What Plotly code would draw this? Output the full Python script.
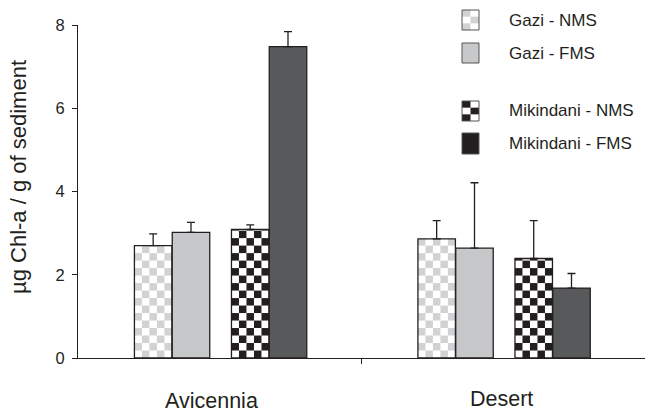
import math
import plotly.graph_objects as go

# ---------------- data ----------------
categories = ["Avicennia", "Desert"]
series_names = ["Gazi - NMS", "Gazi - FMS", "Mikindani - NMS", "Mikindani - FMS"]
gazi_nms = [2.70, 2.86]
gazi_nms_err = [0.28, 0.44]
gazi_fms = [3.02, 2.64]
gazi_fms_err = [0.24, 1.57]
mik_nms = [3.09, 2.39]
mik_nms_err = [0.11, 0.91]
mik_fms = [7.48, 1.68]
mik_fms_err = [0.36, 0.35]
y_ticks = [0, 2, 4, 6, 8]
y_title = "µg Chl-a / g of sediment"

# ---------------- layout constants ----------------
W, H = 645, 414
ML, MR, MT, MB = 78, 0, 25, 56
PW, PH = W - ML - MR, H - MT - MB
INK = "#231f20"
FONT = "Liberation Sans, Arial, sans-serif"

x_pos = list(range(len(categories)))
BAR_W = 0.1323
offsets = [-0.301, -0.1676, 0.0413, 0.1746]
CELL_H = 0.18   # checker cell height in data units
NCOLS = 5
label_shift = [(-8, 401), (-2, 399)]   # (x shift px, y centre px) of category labels


def px2paper(px, py):
    return (px - ML) / PW, (MT + PH - py) / PH


series = [
    dict(name=series_names[0], y=gazi_nms, err=gazi_nms_err, fill="rgba(0,0,0,0)", checker="#d1d2d4"),
    dict(name=series_names[1], y=gazi_fms, err=gazi_fms_err, fill="#c7c8ca", checker=None),
    dict(name=series_names[2], y=mik_nms, err=mik_nms_err, fill="rgba(0,0,0,0)", checker="#231f20"),
    dict(name=series_names[3], y=mik_fms, err=mik_fms_err, fill="#58595b", checker=None),
]

fig = go.Figure()
shapes = []
for s, off in zip(series, offsets):
    fig.add_trace(go.Bar(
        x=x_pos, y=s["y"], name=s["name"], width=BAR_W, offset=off,
        marker=dict(color=s["fill"], line=dict(color=INK, width=1.3)),
        error_y=dict(type="data", array=s["err"], symmetric=False,
                     arrayminus=[0] * len(s["err"]), color=INK, thickness=1.3, width=4),
        showlegend=False,
    ))
    if s["checker"]:
        cw = BAR_W / NCOLS
        for xc, v in zip(x_pos, s["y"]):
            x0 = xc + off
            nrows = math.ceil(v / CELL_H)
            for r in range(nrows):
                for c in range(NCOLS):
                    if (r + c) % 2 == 1:
                        shapes.append(dict(
                            type="rect", xref="x", yref="y", layer="below",
                            x0=x0 + c * cw, x1=x0 + (c + 1) * cw,
                            y0=r * CELL_H, y1=min((r + 1) * CELL_H, v),
                            fillcolor=s["checker"], line=dict(width=0)))

# ---------------- manual legend ----------------
annotations = []
leg_rows = [(10, 30), (43, 63), (101, 121), (133, 154)]
SW_X0, SW_X1 = 462, 479
for s, (ya, yb) in zip(series, leg_rows):
    px0, py0 = px2paper(SW_X0, yb)
    px1, py1 = px2paper(SW_X1, ya)
    if s["checker"]:
        shapes.append(dict(type="rect", xref="paper", yref="paper", x0=px0, x1=px1,
                           y0=py0, y1=py1, fillcolor="white", line=dict(width=0)))
        cw = (SW_X1 - SW_X0) / 2
        ch = (yb - ya) / 3
        for r in range(3):
            for c in range(2):
                if (r + c) % 2 == 0:
                    a0, b0 = px2paper(SW_X0 + c * cw, ya + (r + 1) * ch)
                    a1, b1 = px2paper(SW_X0 + (c + 1) * cw, ya + r * ch)
                    shapes.append(dict(type="rect", xref="paper", yref="paper",
                                       x0=a0, x1=a1, y0=b0, y1=b1,
                                       fillcolor=s["checker"], line=dict(width=0)))
        shapes.append(dict(type="rect", xref="paper", yref="paper", x0=px0, x1=px1,
                           y0=py0, y1=py1, fillcolor="rgba(0,0,0,0)",
                           line=dict(color="#555555", width=1)))
    else:
        col = "#231f20" if s["name"] == series_names[3] else s["fill"]
        shapes.append(dict(type="rect", xref="paper", yref="paper", x0=px0, x1=px1,
                           y0=py0, y1=py1, fillcolor=col, line=dict(color="#555555", width=1)))
    tx, ty = px2paper(507, (ya + yb) / 2)
    annotations.append(dict(xref="paper", yref="paper", x=tx, y=ty, text=s["name"],
                            showarrow=False, xanchor="left", yanchor="middle",
                            font=dict(size=17, color=INK, family=FONT)))

# category labels
for xc, cat, (dx, yc) in zip(x_pos, categories, label_shift):
    _, ty = px2paper(0, yc)
    annotations.append(dict(xref="x", yref="paper", x=xc, y=ty, xshift=dx, text=cat,
                            showarrow=False, xanchor="center", yanchor="middle",
                            font=dict(size=21.5, color=INK, family=FONT)))

# y-axis title
tx, ty = px2paper(18, 177)
annotations.append(dict(xref="paper", yref="paper", x=tx, y=ty, text=y_title,
                        textangle=-90, showarrow=False, xanchor="center", yanchor="middle",
                        font=dict(size=22, color=INK, family=FONT)))

fig.update_layout(
    width=W, height=H,
    margin=dict(l=ML, r=MR, t=MT, b=MB, pad=0),
    paper_bgcolor="white", plot_bgcolor="white",
    font=dict(family=FONT, color=INK),
    barmode="overlay",
    shapes=shapes, annotations=annotations,
    xaxis=dict(range=[-0.5, 1.5], tickvals=[0.5], showticklabels=False,
               ticks="outside", ticklen=5, tickcolor=INK, tickwidth=1,
               showline=True, linecolor=INK, linewidth=1,
               showgrid=False, zeroline=False, fixedrange=True),
    yaxis=dict(range=[0, 8], tickvals=y_ticks, ticks="outside", ticklen=5,
               tickcolor=INK, showline=True, linecolor=INK, linewidth=1,
               showgrid=False, zeroline=False, fixedrange=True,
               ticklabelstandoff=4,
               tickfont=dict(size=16.5, color=INK, family=FONT)),
)

fig.write_html("out.html", config={"displayModeBar": False},
               post_script="document.body.style.margin='0';document.body.style.overflow='hidden';")
